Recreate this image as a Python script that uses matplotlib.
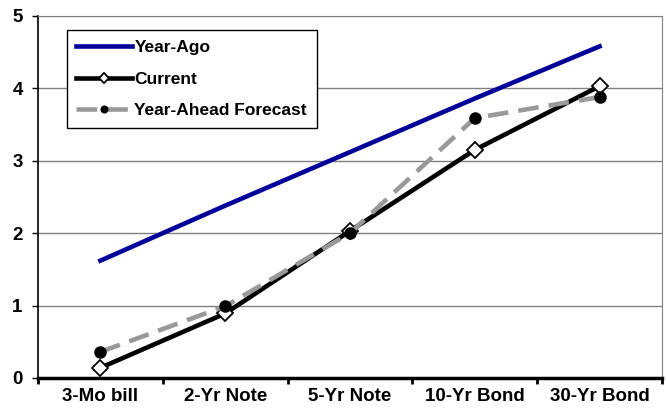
import numpy as np
import matplotlib
matplotlib.use("Agg")
import matplotlib.pyplot as plt

# ---------------- DATA ---------------- #
maturities = ["3-Mo bill", "2-Yr Note", "5-Yr Note", "10-Yr Bond", "30-Yr Bond"]
year_ago = [1.62, 2.38, 3.12, 3.86, 4.58]
current = [0.14, 0.89, 2.03, 3.15, 4.03]
forecast = [0.36, 0.99, 2.00, 3.59, 3.88]

plt.rcParams["font.family"] = ["Liberation Sans", "DejaVu Sans"]
plt.rcParams["font.weight"] = "bold"

fig = plt.figure(figsize=(6.67, 4.09), dpi=100)
ax = fig.add_axes([0.057, 0.076, 0.9355, 0.885])

x = np.arange(len(maturities))

ax.plot(x, year_ago, color="#000099", lw=3.3, label="Year-Ago", zorder=3)
ax.plot(x, current, color="black", lw=3.3, marker="D", markersize=8,
        markerfacecolor="white", markeredgecolor="black", markeredgewidth=1.3,
        label="Current", zorder=4)
ax.plot(x, forecast, color="#999999", lw=3.3, dashes=(4.5, 2.2), marker="o",
        markersize=8, markerfacecolor="black", markeredgecolor="black",
        label="Year-Ahead Forecast", zorder=5)

# ---------------- AXES ---------------- #
ax.set_xlim(-0.5, 4.5)
ax.set_ylim(0, 5)
ax.set_yticks([0, 1, 2, 3, 4, 5])
ax.tick_params(axis="y", labelsize=13.5, length=4, width=1, direction="out", pad=7)
ax.yaxis.grid(True, color="#808080", lw=1)
ax.set_axisbelow(True)

# category boundaries get the tick marks, labels sit in between
ax.set_xticks(np.arange(-0.5, 5, 1))
ax.set_xticklabels([])
ax.tick_params(axis="x", which="major", length=4, width=2, direction="out")
ax.set_xticks(x, minor=True)
ax.set_xticklabels(maturities, minor=True)
ax.tick_params(axis="x", which="minor", length=0, labelsize=13.5, pad=7)

ax.spines["left"].set_color("black")
ax.spines["left"].set_linewidth(1.2)
ax.spines["bottom"].set_color("black")
ax.spines["bottom"].set_linewidth(2.5)
ax.spines["top"].set_color("#808080")
ax.spines["right"].set_color("#808080")

# ---------------- LEGEND ---------------- #
leg = ax.legend(loc="upper left", bbox_to_anchor=(0.046, 0.96), borderaxespad=0,
                fancybox=False, edgecolor="black", framealpha=1,
                prop={"size": 12.5, "weight": "bold"},
                handlelength=3.2, handletextpad=0.15, labelspacing=0.95,
                borderpad=0.55, markerscale=0.6)
leg.get_frame().set_linewidth(1)

fig.savefig("out.png", dpi=100)
